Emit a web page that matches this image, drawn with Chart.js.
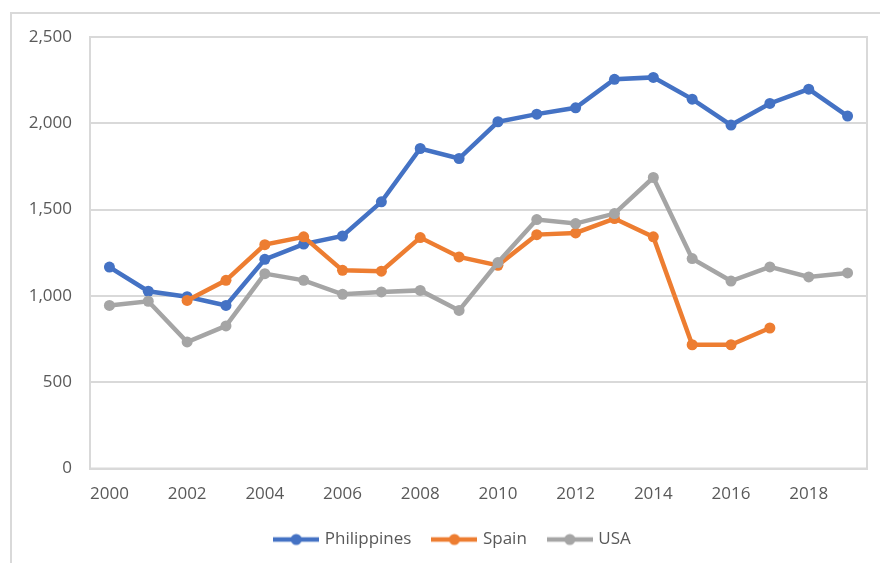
<!DOCTYPE html>
<html>
<head>
<meta charset="utf-8">
<script src="https://cdn.jsdelivr.net/npm/chart.js@4.4.1/dist/chart.umd.min.js"></script>
<style>
  html, body { margin: 0; padding: 0; background: #fff; overflow: hidden; }
  #wrap { position: relative; width: 880px; height: 563px; }
  #frame { position: absolute; left: 10px; top: 12px; width: 900px; height: 600px; border: 2px solid #d9d9d9; }
  #chart { position: absolute; left: 0; top: 0; }
</style>
</head>
<body>
<div id="wrap">
  <div id="frame"></div>
  <canvas id="chart" width="880" height="563"></canvas>
</div>
<script>
const years = ["2000", "2001", "2002", "2003", "2004", "2005", "2006", "2007", "2008", "2009",
  "2010", "2011", "2012", "2013", "2014", "2015", "2016", "2017", "2018", "2019"];
const xTickYears = ["2000", "2002", "2004", "2006", "2008", "2010", "2012", "2014", "2016", "2018"];
const philippines = [1167, 1027, 995, 945, 1212, 1300, 1347, 1545, 1854, 1796,
  2009, 2053, 2090, 2255, 2266, 2140, 1990, 2115, 2198, 2042];
const spain = [null, null, 974, 1090, 1297, 1342, 1148, 1143, 1338, 1226,
  1177, 1355, 1365, 1448, 1342, 717, 717, 814, null, null];
const usa = [945, 969, 733, 826, 1129, 1090, 1009, 1023, 1032, 916,
  1193, 1442, 1419, 1477, 1686, 1216, 1086, 1168, 1110, 1133];

const gridColor = "#d9d9d9";
const textColor = "#595959";
const fontFamily = "'Open Sans', 'Liberation Sans', sans-serif";

// legend swatch: line with a dot in the middle, like the spreadsheet legend
function makeSwatch(color) {
  const c = document.createElement("canvas");
  c.width = 46;
  c.height = 14;
  const g = c.getContext("2d");
  g.strokeStyle = color;
  g.lineWidth = 4.5;
  g.beginPath();
  g.moveTo(0, 7);
  g.lineTo(46, 7);
  g.stroke();
  g.fillStyle = color;
  g.beginPath();
  g.arc(23, 7, 5.5, 0, Math.PI * 2);
  g.fill();
  return c;
}

function makeSeries(label, data, color, order) {
  return {
    label: label,
    data: data,
    borderColor: color,
    backgroundColor: color,
    borderWidth: 4.5,
    pointRadius: 5.5,
    pointBackgroundColor: color,
    pointBorderWidth: 0,
    tension: 0,
    order: order,
    swatch: makeSwatch(color)
  };
}

const plotBorder = {
  id: "plotBorder",
  afterLayout(chart) {
    // legend is centred on the outer frame, which is a bit right of the canvas centre
    if (chart.legend) {
      chart.legend.left += 20;
      chart.legend.right += 20;
    }
  },
  beforeDatasetsDraw(chart) {
    const { ctx, chartArea } = chart;
    ctx.save();
    ctx.strokeStyle = gridColor;
    ctx.lineWidth = 2;
    ctx.strokeRect(chartArea.left, chartArea.top, chartArea.right - chartArea.left, chartArea.bottom - chartArea.top);
    ctx.restore();
  }
};

const ctx = document.getElementById("chart").getContext("2d");
new Chart(ctx, {
  type: "line",
  data: {
    labels: years,
    datasets: [
      makeSeries("Philippines", philippines, "#4472c4", 2),
      makeSeries("Spain", spain, "#ed7d31", 1),
      makeSeries("USA", usa, "#a5a5a5", 0)
    ]
  },
  plugins: [plotBorder],
  options: {
    responsive: false,
    animation: false,
    events: [],
    layout: {
      padding: { top: 37, right: 13, left: 0, bottom: 5 }
    },
    scales: {
      x: {
        offset: true,
        grid: { display: false, drawTicks: false },
        border: { display: true, color: gridColor, width: 2 },
        ticks: {
          autoSkip: false,
          maxRotation: 0,
          padding: 15,
          color: textColor,
          font: { family: fontFamily, size: 17 },
          callback: function (value) {
            const label = this.getLabelForValue(value);
            return xTickYears.includes(label) ? label : "";
          }
        },
        afterFit(scale) { scale.height = 39.5; }
      },
      y: {
        min: 0,
        max: 2500,
        grid: { color: gridColor, lineWidth: 2, drawTicks: false },
        border: { display: true, color: gridColor, width: 2 },
        ticks: {
          stepSize: 500,
          padding: 18,
          color: textColor,
          font: { family: fontFamily, size: 17 },
          callback: (v) => v.toLocaleString("en-US")
        },
        afterFit(scale) { scale.width = 90; }
      }
    },
    plugins: {
      tooltip: { enabled: false },
      legend: {
        position: "bottom",
        labels: {
          usePointStyle: true,
          pointStyleWidth: 40,
          padding: 23,
          color: textColor,
          font: { family: fontFamily, size: 17 },
          generateLabels(chart) {
            return chart.data.datasets.map((ds, i) => ({
              text: ds.label,
              fillStyle: ds.backgroundColor,
              strokeStyle: ds.borderColor,
              lineWidth: 0,
              pointStyle: ds.swatch,
              fontColor: textColor,
              hidden: false,
              datasetIndex: i
            }));
          }
        }
      }
    }
  }
});
</script>
</body>
</html>
